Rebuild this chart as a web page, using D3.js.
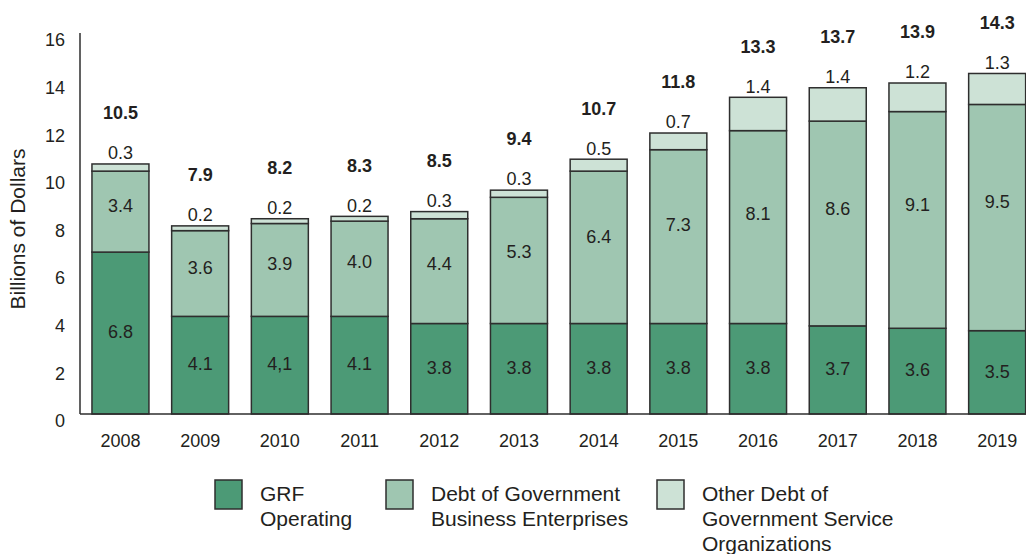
<!DOCTYPE html>
<html>
<head>
<meta charset="utf-8">
<script src="https://cdn.jsdelivr.net/npm/d3@7/dist/d3.min.js"></script>
<style>
  html, body { margin: 0; padding: 0; background: #fff; }
  svg { display: block; font-family: "Liberation Sans", Arial, Helvetica, sans-serif; }
</style>
</head>
<body>
<svg id="chart" width="1026" height="554"></svg>
<script>
// Debt outstanding by fiscal year, billions of dollars
const years = ["2008","2009","2010","2011","2012","2013","2014","2015","2016","2017","2018","2019"];
const grfOperating = [6.8, 4.1, 4.1, 4.1, 3.8, 3.8, 3.8, 3.8, 3.8, 3.7, 3.6, 3.5];
const grfLabels = ["6.8","4.1","4,1","4.1","3.8","3.8","3.8","3.8","3.8","3.7","3.6","3.5"];
const businessEnterprises = [3.4, 3.6, 3.9, 4.0, 4.4, 5.3, 6.4, 7.3, 8.1, 8.6, 9.1, 9.5];
const serviceOrganizations = [0.3, 0.2, 0.2, 0.2, 0.3, 0.3, 0.5, 0.7, 1.4, 1.4, 1.2, 1.3];
const totals = [10.5, 7.9, 8.2, 8.3, 8.5, 9.4, 10.7, 11.8, 13.3, 13.7, 13.9, 14.3];
const yTicks = [0, 2, 4, 6, 8, 10, 12, 14, 16];
const seriesNames = [
  ["GRF", "Operating"],
  ["Debt of Government", "Business Enterprises"],
  ["Other Debt of", "Government Service", "Organizations"]
];

const colors = ["#4c9a76", "#9fc6b1", "#cde2d6"];
const strokeColor = "#2e2e2e";
const textColor = "#231f20";

const svg = d3.select("#chart");

const x = d3.scaleBand()
  .domain(years)
  .range([80.6, 1037])
  .paddingInner(0.285)
  .paddingOuter(0.1425);

const y = d3.scaleLinear().domain([0, 16]).range([414, 33]);

// stacked layout
const rows = years.map((yr, i) => ({
  year: yr,
  grf: grfOperating[i],
  gbe: businessEnterprises[i],
  gso: serviceOrganizations[i]
}));
const stack = d3.stack().keys(["grf", "gbe", "gso"]);
const layers = stack(rows);

// vertical axis line
svg.append("line")
  .attr("x1", 80).attr("x2", 80)
  .attr("y1", y(16)).attr("y2", y(0))
  .attr("stroke", strokeColor).attr("stroke-width", 1.5);

// y tick labels
svg.append("g").selectAll("text")
  .data(yTicks)
  .join("text")
  .attr("x", 65)
  .attr("y", d => y(d) + 7)
  .attr("dy", "0.35em")
  .attr("text-anchor", "end")
  .attr("font-size", 18)
  .attr("fill", textColor)
  .text(d => d);

// y axis title
svg.append("text")
  .attr("transform", `translate(25, 229) rotate(-90)`)
  .attr("text-anchor", "middle")
  .attr("font-size", 21)
  .attr("fill", textColor)
  .text("Billions of Dollars");

// bars
layers.forEach((layer, li) => {
  svg.append("g").selectAll("rect")
    .data(layer)
    .join("rect")
    .attr("x", d => x(d.data.year))
    .attr("width", x.bandwidth())
    .attr("y", d => y(d[1]))
    .attr("height", d => y(d[0]) - y(d[1]))
    .attr("fill", colors[li])
    .attr("stroke", strokeColor)
    .attr("stroke-width", 1.5);
});

// baseline drawn over bar edges
svg.append("line")
  .attr("x1", 80).attr("x2", 1026)
  .attr("y1", y(0)).attr("y2", y(0))
  .attr("stroke", strokeColor).attr("stroke-width", 1.5);

// year labels
svg.append("g").selectAll("text")
  .data(years)
  .join("text")
  .attr("x", d => x(d) + x.bandwidth() / 2)
  .attr("y", 441)
  .attr("dy", "0.35em")
  .attr("text-anchor", "middle")
  .attr("font-size", 18)
  .attr("fill", textColor)
  .text(d => d);

const cx = d => x(d.data.year) + x.bandwidth() / 2;

// GRF segment labels
svg.append("g").selectAll("text")
  .data(layers[0])
  .join("text")
  .attr("x", cx)
  .attr("y", d => (y(d[0]) + y(d[1])) / 2 - 1)
  .attr("dy", "0.35em")
  .attr("text-anchor", "middle")
  .attr("font-size", 18)
  .attr("fill", textColor)
  .text((d, i) => grfLabels[i]);

// business enterprise segment labels
svg.append("g").selectAll("text")
  .data(layers[1])
  .join("text")
  .attr("x", cx)
  .attr("y", d => y(d[0]) - 0.57 * (y(d[0]) - y(d[1])))
  .attr("dy", "0.35em")
  .attr("text-anchor", "middle")
  .attr("font-size", 18)
  .attr("fill", textColor)
  .text((d, i) => d3.format(".1f")(businessEnterprises[i]));

// service organization labels above bars
svg.append("g").selectAll("text")
  .data(layers[2])
  .join("text")
  .attr("x", cx)
  .attr("y", d => y(d[1]) - 11)
  .attr("dy", "0.35em")
  .attr("text-anchor", "middle")
  .attr("font-size", 18)
  .attr("fill", textColor)
  .text((d, i) => d3.format(".1f")(serviceOrganizations[i]));

// totals in bold
svg.append("g").selectAll("text")
  .data(years)
  .join("text")
  .attr("x", d => x(d) + x.bandwidth() / 2)
  .attr("y", (d, i) => y(totals[i]) - 51)
  .attr("dy", "0.35em")
  .attr("text-anchor", "middle")
  .attr("font-size", 18)
  .attr("font-weight", "bold")
  .attr("fill", textColor)
  .text((d, i) => d3.format(".1f")(totals[i]));

// legend
const legendX = [215, 386, 657];
const legend = svg.append("g");
seriesNames.forEach((lines, i) => {
  const g = legend.append("g").attr("transform", `translate(${legendX[i]}, 480)`);
  g.append("rect")
    .attr("width", 27).attr("height", 29)
    .attr("fill", colors[i])
    .attr("stroke", strokeColor)
    .attr("stroke-width", 1.5);
  g.append("text")
    .attr("x", 45)
    .attr("y", 21)
    .attr("font-size", 21)
    .attr("fill", textColor)
    .selectAll("tspan")
    .data(lines)
    .join("tspan")
    .attr("x", 45)
    .attr("dy", (d, j) => j === 0 ? 0 : 25)
    .text(d => d);
});
</script>
</body>
</html>
